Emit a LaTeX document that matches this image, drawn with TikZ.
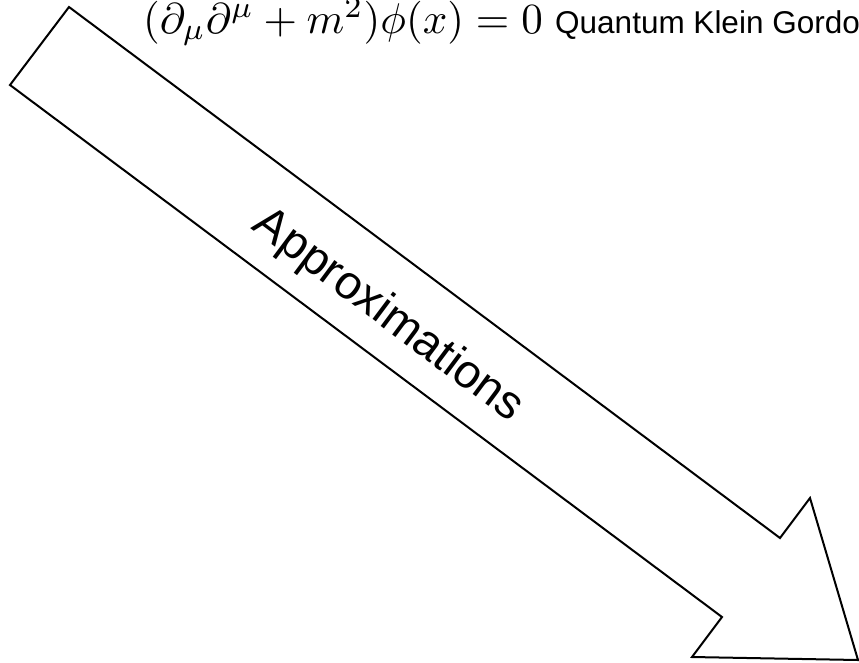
\documentclass[tikz,border=0pt]{standalone}
\usepackage{graphicx}
\usepackage{fontspec}
\newfontfamily\arialfont{Liberation Sans}
\tikzset{
  arrowshape/.style={draw=black, line width=2pt, line join=miter, fill=white},
  eqtext/.style={inner sep=0pt, anchor=base west},
  labeltext/.style={inner sep=0pt, anchor=base west, font=\arialfont\fontsize{31.5}{36}\selectfont},
  arrowtext/.style={inner sep=0pt, font=\arialfont\fontsize{47}{52}\selectfont, rotate=-36.75}
}
\begin{document}
\begin{tikzpicture}[x=1pt,y=-1pt]
  \useasboundingbox (0,0) rectangle (859,662);
  \clip (0,0) rectangle (859,662);
  \coordinate (A) at (69,7);
  \coordinate (U) at (780,538);
  \coordinate (UB) at (810,498);
  \coordinate (T) at (858,660);
  \coordinate (LB) at (692,657);
  \coordinate (L) at (722,617);
  \coordinate (B) at (10,85);
  \draw[arrowshape] (A) -- (U) -- (UB) -- (T) -- (LB) -- (L) -- (B) -- cycle;
  \node[eqtext] (eq) at (143,33) {\scalebox{4.3}{$(\partial_\mu\partial^\mu + m^2)\phi(x) = 0$}};
  \node[labeltext] (qkg) at (555,33) {Quantum Klein Gordon};
  \node[arrowtext] (approx) at (388,316) {Approximations};
\end{tikzpicture}
\end{document}
